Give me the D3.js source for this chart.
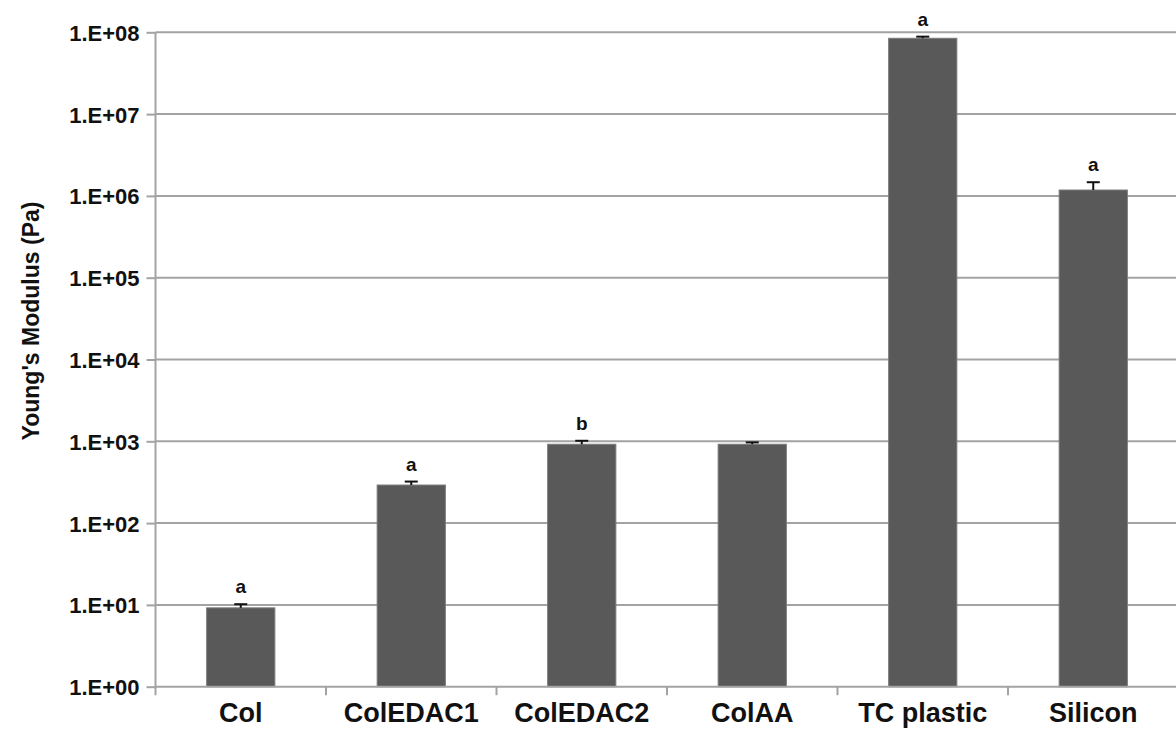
<!DOCTYPE html>
<html>
<head>
<meta charset="utf-8">
<script src="https://cdn.jsdelivr.net/npm/d3@7"></script>
<style>
  html, body { margin: 0; padding: 0; background: #ffffff; }
  svg { display: block; }
  text { font-family: "Liberation Sans", Arial, sans-serif; font-weight: bold; fill: #111; }
</style>
</head>
<body>
<script>
// Young's modulus per substrate (Pa), with upper error and significance letters
const categories = ["Col", "ColEDAC1", "ColEDAC2", "ColAA", "TC plastic", "Silicon"];
const modulus = [9.2, 292, 920, 920, 8.45e7, 1.18e6];
const errors = [1.0, 30, 95, 50, 0.4e7, 0.29e6];
const letters = ["a", "a", "b", "", "a", "a"];
const tickValues = [1, 10, 100, 1e3, 1e4, 1e5, 1e6, 1e7, 1e8];
const tickLabels = ["1.E+00", "1.E+01", "1.E+02", "1.E+03", "1.E+04", "1.E+05", "1.E+06", "1.E+07", "1.E+08"];
const yTitle = "Young's Modulus (Pa)";

const W = 1176, H = 735;
const plotLeft = 155.5, plotRight = 1178.5, plotTop = 32.3, plotBottom = 686.7;

const svg = d3.select("body").append("svg").attr("width", W).attr("height", H);

const x = d3.scaleBand().domain(categories).range([plotLeft, plotRight]).paddingInner(0).paddingOuter(0);
const y = d3.scaleLog().domain([1, 1e8]).range([plotBottom, plotTop]);

const gridColor = "#a3a3a3";

// horizontal gridlines at each decade
svg.append("g").selectAll("line").data(tickValues.slice(1)).join("line")
  .attr("x1", plotLeft).attr("x2", W)
  .attr("y1", d => y(d)).attr("y2", d => y(d))
  .attr("stroke", gridColor).attr("stroke-width", 2);

// bars
const barW = x.bandwidth() * 0.4;
svg.append("g").selectAll("rect").data(categories).join("rect")
  .attr("x", d => x(d) + (x.bandwidth() - barW) / 2)
  .attr("y", (d, i) => y(modulus[i]))
  .attr("width", barW)
  .attr("height", (d, i) => y(1) - y(modulus[i]))
  .attr("fill", "#595959")
  .attr("stroke", "#7a7a7a").attr("stroke-width", 1);

// upper error whiskers
const err = svg.append("g").attr("stroke", "#111").attr("stroke-width", 2);
categories.forEach((c, i) => {
  const cx = x(c) + x.bandwidth() / 2;
  const y0 = y(modulus[i]);
  const y1 = y(modulus[i] + errors[i]);
  err.append("line").attr("x1", cx).attr("x2", cx).attr("y1", y0).attr("y2", y1);
  err.append("line").attr("x1", cx - 6.5).attr("x2", cx + 6.5).attr("y1", y1).attr("y2", y1);
});

// significance letters
svg.append("g").selectAll("text").data(categories).join("text")
  .attr("x", d => x(d) + x.bandwidth() / 2)
  .attr("y", (d, i) => y(modulus[i] + errors[i]) - 11)
  .attr("text-anchor", "middle")
  .style("font-size", "19px")
  .text((d, i) => letters[i]);

// y axis
const yAxis = d3.axisLeft(y)
  .tickValues(tickValues)
  .tickFormat((d, i) => tickLabels[i])
  .tickSize(9).tickPadding(7);
const gy = svg.append("g").attr("transform", `translate(${plotLeft},0)`).call(yAxis);
gy.select(".domain").remove();
gy.selectAll(".tick line").attr("stroke", gridColor).attr("stroke-width", 2);
gy.selectAll(".tick text").style("font-size", "22px").attr("fill", "#111")
  .style("font-family", "'Liberation Sans', Arial, sans-serif").style("font-weight", "bold")
  .attr("dy", "0.36em");
svg.append("line").attr("x1", plotLeft).attr("x2", plotLeft).attr("y1", plotTop).attr("y2", plotBottom + 8.5)
  .attr("stroke", gridColor).attr("stroke-width", 2);

// x axis
const xAxis = d3.axisBottom(x).tickSize(0).tickPadding(16);
const gx = svg.append("g").attr("transform", `translate(0,${plotBottom})`).call(xAxis);
gx.select(".domain").remove();
gx.selectAll(".tick text").style("font-size", "27px").attr("fill", "#111")
  .style("font-family", "'Liberation Sans', Arial, sans-serif").style("font-weight", "bold")
  .attr("dy", "0.71em");
svg.append("line").attr("x1", plotLeft).attr("x2", W).attr("y1", plotBottom).attr("y2", plotBottom)
  .attr("stroke", gridColor).attr("stroke-width", 2);
// category separators below the axis
svg.append("g").selectAll("line").data(categories.slice(1)).join("line")
  .attr("x1", d => x(d)).attr("x2", d => x(d))
  .attr("y1", plotBottom).attr("y2", plotBottom + 8.5)
  .attr("stroke", gridColor).attr("stroke-width", 2);

// y axis title
svg.append("text")
  .attr("transform", `translate(38.5,321) rotate(-90)`)
  .attr("text-anchor", "middle")
  .style("font-size", "23px")
  .text(yTitle);
</script>
</body>
</html>
